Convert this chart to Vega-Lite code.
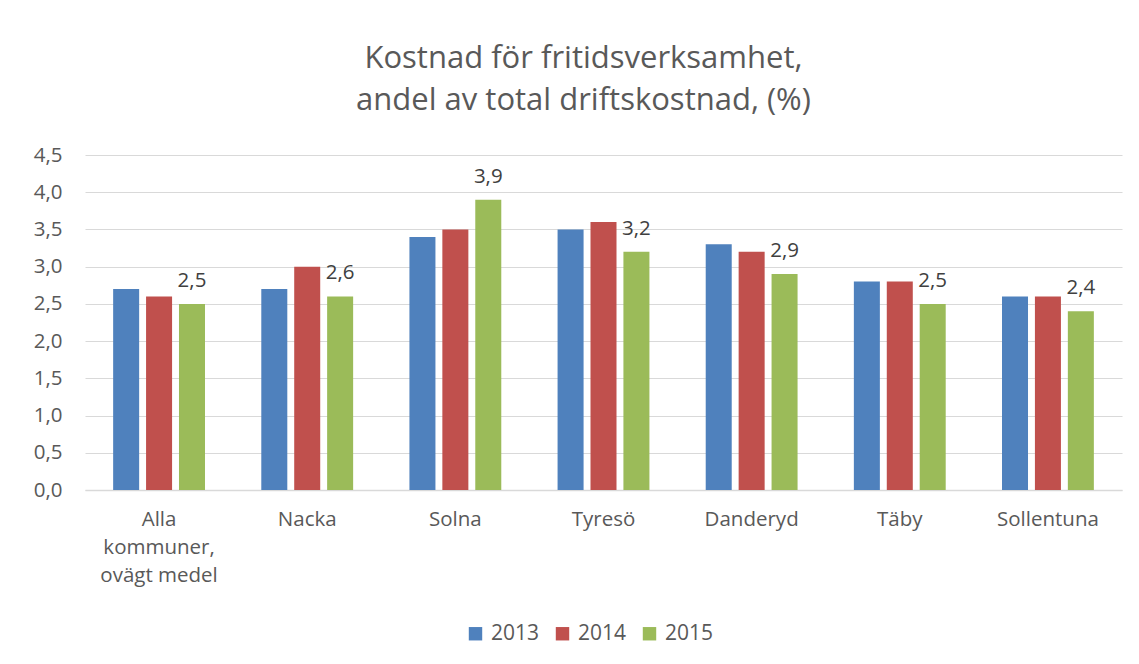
{
  "$schema": "https://vega.github.io/schema/vega-lite/v6.json",
  "autosize": {"type": "none"},
  "width": 1037,
  "height": 335,
  "padding": {"left": 85, "top": 155, "right": 17, "bottom": 174},
  "background": "white",
  "title": {
    "text": ["Kostnad för fritidsverksamhet,", "andel av total driftskostnad, (%)"],
    "font": "Open Sans",
    "fontSize": 31,
    "fontWeight": "normal",
    "color": "#595959",
    "lineHeight": 42,
    "anchor": "middle",
    "dx": -20,
    "offset": 28
  },
  "data": {
    "values": [
      {"kommun": "Alla\nkommuner,\novägt medel", "year": "2013", "value": 2.7},
      {"kommun": "Alla\nkommuner,\novägt medel", "year": "2014", "value": 2.6},
      {"kommun": "Alla\nkommuner,\novägt medel", "year": "2015", "value": 2.5},
      {"kommun": "Nacka", "year": "2013", "value": 2.7},
      {"kommun": "Nacka", "year": "2014", "value": 3.0},
      {"kommun": "Nacka", "year": "2015", "value": 2.6},
      {"kommun": "Solna", "year": "2013", "value": 3.4},
      {"kommun": "Solna", "year": "2014", "value": 3.5},
      {"kommun": "Solna", "year": "2015", "value": 3.9},
      {"kommun": "Tyresö", "year": "2013", "value": 3.5},
      {"kommun": "Tyresö", "year": "2014", "value": 3.6},
      {"kommun": "Tyresö", "year": "2015", "value": 3.2},
      {"kommun": "Danderyd", "year": "2013", "value": 3.3},
      {"kommun": "Danderyd", "year": "2014", "value": 3.2},
      {"kommun": "Danderyd", "year": "2015", "value": 2.9},
      {"kommun": "Täby", "year": "2013", "value": 2.8},
      {"kommun": "Täby", "year": "2014", "value": 2.8},
      {"kommun": "Täby", "year": "2015", "value": 2.5},
      {"kommun": "Sollentuna", "year": "2013", "value": 2.6},
      {"kommun": "Sollentuna", "year": "2014", "value": 2.6},
      {"kommun": "Sollentuna", "year": "2015", "value": 2.4}
    ]
  },
  "encoding": {
    "x": {
      "field": "kommun",
      "type": "nominal",
      "sort": null,
      "scale": {"paddingInner": 0.38, "paddingOuter": 0.19},
      "axis": {
        "title": null,
        "labelAngle": 0,
        "labelExpr": "split(datum.label, '\\n')",
        "labelLineHeight": 28,
        "labelPadding": 19,
        "labelBaseline": "top",
        "labelFontSize": 20.5,
        "ticks": false,
        "domainColor": "#d9d9d9",
        "domainWidth": 1.5
      }
    },
    "xOffset": {
      "field": "year",
      "type": "nominal",
      "scale": {"paddingInner": 0.21, "paddingOuter": 0}
    },
    "y": {
      "field": "value",
      "type": "quantitative",
      "scale": {"domain": [0, 4.5], "nice": false},
      "axis": {
        "title": null,
        "values": [0, 0.5, 1, 1.5, 2, 2.5, 3, 3.5, 4, 4.5],
        "format": ".1f",
        "domain": false,
        "ticks": false,
        "labelPadding": 23,
        "labelFontSize": 20.5,
        "gridColor": "#d9d9d9",
        "gridWidth": 1.2
      }
    }
  },
  "layer": [
    {
      "mark": {"type": "bar"},
      "encoding": {
        "color": {
          "field": "year",
          "type": "nominal",
          "scale": {"domain": ["2013", "2014", "2015"], "range": ["#4F81BD", "#C0504D", "#9BBB59"]},
          "legend": {
            "title": null,
            "orient": "none",
            "direction": "horizontal",
            "legendX": 380,
            "legendY": 468,
            "symbolType": "square",
            "symbolSize": 180,
            "symbolStrokeWidth": 0,
            "labelFontSize": 21,
            "labelFont": "Open Sans",
            "labelColor": "#595959",
            "labelOffset": 5,
            "columnPadding": 12
          }
        }
      }
    },
    {
      "transform": [{"filter": "datum.year == '2015'"}],
      "mark": {"type": "text", "baseline": "alphabetic", "dy": -17, "font": "Open Sans", "fontSize": 20.5, "color": "#404040"},
      "encoding": {
        "text": {"field": "value", "type": "quantitative", "format": ".1f"}
      }
    }
  ],
  "config": {
    "locale": {
      "number": {"decimal": ",", "thousands": " ", "grouping": [3], "currency": ["", " kr"]}
    },
    "view": {"stroke": null},
    "axis": {
      "labelFont": "Open Sans",
      "labelFontSize": 18,
      "labelColor": "#595959"
    }
  }
}
